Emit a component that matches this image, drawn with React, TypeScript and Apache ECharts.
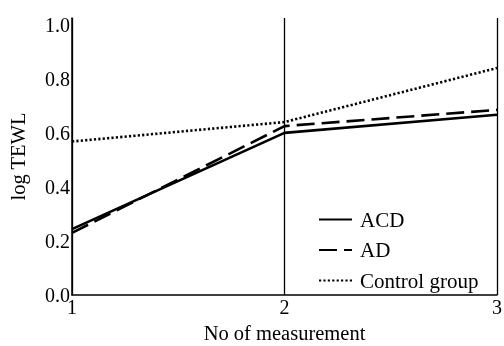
import React, { useEffect, useRef } from "react";
import * as echarts from "echarts";

const measurements = [1, 2, 3];
const acd = [0.244, 0.6, 0.667];
const ad = [0.23, 0.625, 0.685];
const control = [0.568, 0.64, 0.84];
const seriesNames = ["ACD", "AD", "Control group"];

const FONT = "Liberation Serif";

export default function App() {
  const ref = useRef<HTMLDivElement>(null);
  useEffect(() => {
    const chart = echarts.init(ref.current!, null, { renderer: "svg" });
    const mk = (name: string, vals: number[], type: any) => ({
      name,
      type: "line",
      symbol: "none",
      data: measurements.map((m, i) => [m, vals[i]]),
      lineStyle: { color: "#000", width: 2.6, type },
      itemStyle: { color: "#000" },
    });
    chart.setOption({
      animation: false,
      textStyle: { fontFamily: FONT },
      grid: { left: 72, right: 7, top: 18, bottom: 51, outerBoundsMode: "none", containLabel: false },
      legend: {
        orient: "vertical",
        left: 318,
        top: 209,
        padding: 0,
        itemWidth: 33,
        itemHeight: 18,
        itemGap: 9.5,
        data: seriesNames,
        itemStyle: { opacity: 0, borderWidth: 0 },
        textStyle: { fontFamily: FONT, fontSize: 21, color: "#000", padding: [0, 0, 0, 3] },
      },
      xAxis: {
        type: "value",
        min: 1,
        max: 3,
        interval: 1,
        name: "No of measurement",
        nameLocation: "middle",
        nameGap: 30,
        nameTextStyle: { fontFamily: FONT, fontSize: 20.5, color: "#000", lineHeight: 16 },
        axisLine: { show: true, lineStyle: { color: "#000", width: 1.5 } },
        axisTick: { show: false },
        axisLabel: { fontFamily: FONT, fontSize: 20, color: "#000", margin: 5, lineHeight: 14 },
        splitLine: { show: true, lineStyle: { color: "#000", width: 1.3 } },
      },
      yAxis: {
        type: "value",
        min: 0,
        max: 1.025,
        interval: 0.2,
        name: "log TEWL",
        nameLocation: "middle",
        nameGap: 44,
        nameTextStyle: { fontFamily: FONT, fontSize: 20.5, color: "#000" },
        axisLine: { show: true, lineStyle: { color: "#000", width: 1.5 } },
        axisTick: { show: false },
        axisLabel: {
          fontFamily: FONT,
          fontSize: 20,
          color: "#000",
          margin: 2,
          lineHeight: 14,
          padding: [0, 0, 4, 0],
          formatter: (v: number) =>
            Math.abs(v * 5 - Math.round(v * 5)) < 1e-6 ? v.toFixed(1) : "",
        },
        splitLine: { show: false },
      },
      series: [
        mk(seriesNames[0], acd, "solid"),
        mk(seriesNames[1], ad, [18, 7]),
        mk(seriesNames[2], control, [2.2, 2.2]),
      ],
    });
    return () => chart.dispose();
  }, []);
  return (
    <div
      ref={ref}
      style={{ position: "fixed", left: 0, top: 0, width: 504, height: 346 }}
    />
  );
}
